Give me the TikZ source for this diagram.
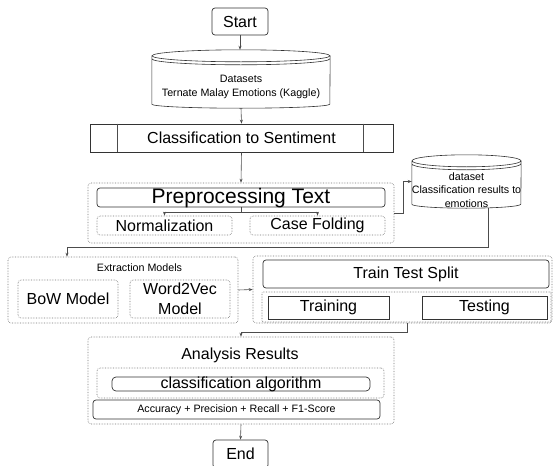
\documentclass[tikz,border=0pt]{standalone}
\usepackage{fontspec}
\setmainfont{Liberation Sans}
\usetikzlibrary{arrows.meta, positioning, calc}

\newcommand{\fsBig}{\fontsize{21pt}{24pt}\selectfont}
\newcommand{\fsMid}{\fontsize{16pt}{20pt}\selectfont}
\newcommand{\fsSmall}{\fontsize{10.7pt}{13.5pt}\selectfont}

% cylinder outline round a node: #1 node name, #2 half width
\newcommand{\dbdraw}[2]{%
  \draw[dbline] ([yshift=-6pt]#1.north) ellipse [x radius=#2, y radius=6pt]
    ([yshift=-9pt]#1.north west) arc [start angle=180, end angle=360, x radius=#2, y radius=6pt]
    ([yshift=-6pt]#1.north west) -- ([yshift=4pt]#1.south west)
    arc [start angle=180, end angle=360, x radius=#2, y radius=4pt]
    -- ([yshift=-6pt]#1.north east);
}

\begin{document}
\begin{tikzpicture}[
  x=1pt, y=-1pt,
  >=Stealth,
  line/.style={draw=black!70, line width=0.6pt},
  arr/.style={line, -{Stealth[length=4pt, width=3pt]}},
  box/.style={draw=black!80, line width=0.7pt, inner sep=0pt, align=center, font=\fsMid},
  rbox/.style={box, rounded corners=3pt},
  dotbox/.style={draw=black!55, densely dotted, line width=0.6pt, rounded corners=3pt,
    inner sep=0pt, align=center, font=\fsMid},
  grp/.style={dotbox},
  dbline/.style={draw=black!80, line width=0.6pt},
  db/.style={inner sep=0pt},
  txt/.style={inner sep=0pt, align=center},
]
\useasboundingbox (0,0) rectangle (555,466);

\node[rbox, minimum width=56pt, minimum height=27pt] (start) at (240,21.5) {Start};

\node[db, minimum width=178pt, minimum height=58pt,
  label={[txt, font=\fsSmall, yshift=-8pt]center:Datasets\\Ternate Malay Emotions (Kaggle)}] (data) at (241,79) {};
\dbdraw{data}{89pt}

\node[box, minimum width=303pt, minimum height=28pt] (classif) at (241.5,138) {Classification to Sentiment};
\draw[line] ([xshift=28pt]classif.north west) -- ([xshift=28pt]classif.south west)
  ([xshift=-30pt]classif.north east) -- ([xshift=-30pt]classif.south east);

% Preprocessing
\node[grp, minimum width=306pt, minimum height=60pt] (prepgrp) at (241,213) {};
\node[rbox, font=\fsBig, minimum width=288pt, minimum height=19pt,
  text height=15pt, text depth=4pt] (prep) at (241,197.5) {Preprocessing Text};
\node[dotbox, minimum width=135pt, minimum height=19pt] (norm) at (164.5,225.5) {Normalization};
\node[dotbox, minimum width=135pt, minimum height=19pt] (casef) at (317.5,225.5) {Case Folding};

\node[db, minimum width=109pt, minimum height=53pt,
  label={[txt, font=\fsSmall, yshift=-8.5pt]center:dataset\\Classification results to\\emotions}] (db2) at (466.5,181.5) {};
\dbdraw{db2}{54.5pt}

% Extraction
\node[grp, minimum width=230pt, minimum height=66pt] (extgrp) at (123,290) {};
\node[txt, font=\fsSmall] (exttitle) at (139.5,268) {Extraction Models};
\node[dotbox, minimum width=100pt, minimum height=38pt] (bow) at (68,299) {BoW Model};
\node[dotbox, minimum width=100pt, minimum height=38pt] (w2v) at (180,299) {Word2Vec\\Model};

% Train / test
\node[grp, minimum width=299pt, minimum height=67pt] (traingrp) at (402.5,289.5) {};
\node[rbox, minimum width=286pt, minimum height=28pt] (tts) at (406,274) {Train Test Split};
\node[grp, rounded corners=1pt, minimum width=289pt, minimum height=30pt] (splitgrp) at (406.5,307) {};
\node[box, minimum width=121pt, minimum height=23pt] (train) at (328.5,307.5) {Training};
\node[box, minimum width=125pt, minimum height=23pt] (test) at (484.5,307.5) {Testing};

% Analysis
\node[grp, minimum width=306pt, minimum height=87pt] (anagrp) at (241,380.5) {};
\node[txt, font=\fsMid] (anatitle) at (240,355) {Analysis Results};
\node[grp, minimum width=287pt, minimum height=30pt] (algogrp) at (240.5,383) {};
\node[rbox, rounded corners=4pt, minimum width=258pt, minimum height=14pt,
  text height=11pt, text depth=3pt] (algo) at (241,384) {classification algorithm};
\node[rbox, font=\fsSmall, minimum width=287pt, minimum height=19pt] (metric) at (236.5,409.5) {Accuracy + Precision + Recall + F1-Score};

\node[rbox, minimum width=55pt, minimum height=28pt] (end) at (240.5,454) {End};

\draw[arr] (start.south) -- (start.south |- data.north);
\draw[arr] (data.south) -- (classif.north);
\draw[arr] (classif.south) -- (prepgrp.north);
\draw[arr] (prep.south) -- ++(0,4.5) -| (norm.north);
\draw[arr] (prep.south) -- ++(0,4.5) -| (casef.north);
\draw[arr] (prepgrp.east) -- ++(9,0) |- (db2.west);
\draw[arr] ([xshift=21.5pt]db2.south) -- ++(0,39.5) -| ([xshift=-56pt]extgrp.north);
\draw[arr] (extgrp.east) -- (traingrp.west);
\draw[arr] ([xshift=4.5pt]traingrp.south) -- ++(0,9) -| (anagrp.north);
\draw[arr] (anagrp.south) -- (end.north);

\end{tikzpicture}
\end{document}
